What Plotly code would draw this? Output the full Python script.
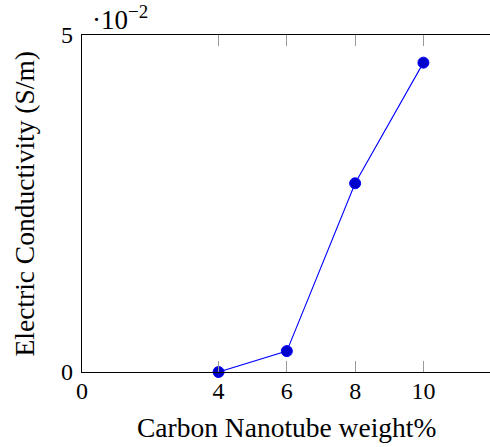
import plotly.graph_objects as go

# Carbon nanotube loading (weight %) and measured electric conductivity (S/m)
cnt_weight = [4, 6, 8, 10]
conductivity = [0.0, 0.0031, 0.0280, 0.0459]

x_ticks = [0, 4, 6, 8, 10]
y_ticks = [0, 0.05]
y_tick_labels = ["0", "5"]

FONT = "Liberation Serif"
TICK_FS = 24
TITLE_FS = 27.5

fig = go.Figure()
fig.add_trace(go.Scatter(
    x=cnt_weight,
    y=conductivity,
    mode="lines+markers",
    line=dict(color="#0000ff", width=1.1),
    marker=dict(color="#0000cc", size=11, line=dict(color="#0000ff", width=1)),
    showlegend=False,
    cliponaxis=False,
))

fig.update_layout(
    width=490,
    height=447,
    margin=dict(l=82, r=0, t=35, b=75),
    paper_bgcolor="white",
    plot_bgcolor="white",
    font=dict(family=FONT, size=TICK_FS, color="black"),
    xaxis=dict(
        range=[0, 11.95],
        tickvals=x_ticks,
        ticktext=[str(v) for v in x_ticks],
        ticks="inside",
        ticklen=11,
        tickwidth=1,
        tickcolor="#9a9a9a",
        showline=True,
        linecolor="black",
        linewidth=1.2,
        mirror="ticks",
        showgrid=False,
        zeroline=False,
        ticklabelstandoff=-3,
        tickfont=dict(family=FONT, size=TICK_FS),
    ),
    yaxis=dict(
        range=[0, 0.05],
        tickvals=y_ticks,
        ticktext=y_tick_labels,
        ticks="",
        showline=True,
        linecolor="black",
        linewidth=1.2,
        showgrid=False,
        zeroline=False,
        ticklabelstandoff=3,
        tickfont=dict(family=FONT, size=TICK_FS),
    ),
    annotations=[
        dict(text="Carbon Nanotube weight%", xref="paper", yref="paper",
             x=0.5, y=0, xanchor="center", yanchor="middle", yshift=-55,
             showarrow=False, font=dict(family=FONT, size=TITLE_FS)),
        dict(text="Electric Conductivity (S/m)", xref="paper", yref="paper",
             x=0, y=0.5, xanchor="center", yanchor="middle", xshift=-58,
             textangle=-90, showarrow=False, font=dict(family=FONT, size=TITLE_FS)),
        dict(text="·10<sup>−2</sup>", xref="paper", yref="paper",
             x=0, y=1, xanchor="left", yanchor="middle", xshift=8, yshift=17,
             showarrow=False, font=dict(family=FONT, size=27)),
    ],
)

fig.write_html("out.html")
